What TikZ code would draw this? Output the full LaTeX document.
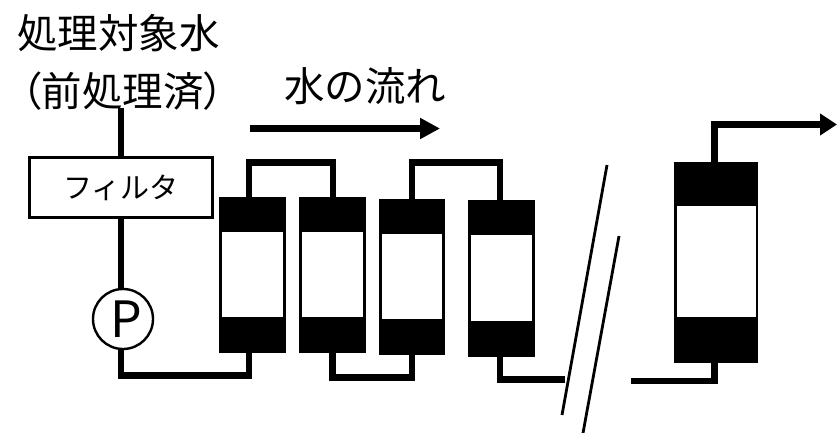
\documentclass[tikz,border=0pt]{standalone}
\usepackage{fontspec}
\newfontfamily\jp{Noto Sans CJK JP}
\newfontfamily\jpp[Script=CJK,RawFeature=+palt]{Noto Sans CJK JP}
\usetikzlibrary{arrows.meta}
\tikzset{
  pipe/.style={draw=black,line width=6.5pt,line cap=butt,line join=miter},
  capbox/.style={rectangle,fill=black,draw=none,inner sep=0pt,outer sep=0pt},
  core/.style={rectangle,fill=white,draw=none,inner sep=0pt,outer sep=0pt},
  jptext/.style={inner sep=0pt,outer sep=0pt,text=black,anchor=west,font=\jp\fontsize{40.5}{40.5}\selectfont},
  breakline/.style={draw=black,line width=2.8pt},
}
% name, left, right, top, core top, core bottom, bottom, inset
\newcommand{\modulebox}[8]{%
  \node[capbox,minimum width=#3pt-#2pt,minimum height=#7pt-#4pt] (#1) at ({(#2+#3)/2},{(#4+#7)/2}) {};
  \node[core,minimum width=#3pt-#2pt-2*#8pt,minimum height=#6pt-#5pt] (#1c) at ({(#2+#3)/2},{(#5+#6)/2}) {};
}
\begin{document}
\begin{tikzpicture}[x=1pt,y=-1pt]
\useasboundingbox (0,0) rectangle (837,433);
\node[jptext] (t1) at (17,33) {処理対象水};
\node[jptext,anchor=center] (t2) at (122.5,91) {{\jpp（}前処理済{\jpp）}};
\node[jptext] (t3) at (284,86) {水の流れ};

\node[draw=black,line width=2.6pt,fill=white,minimum width=183pt,minimum height=60pt,inner sep=0pt,outer sep=0pt,font=\jp\fontsize{29}{29}\selectfont] (filter) at (121,187.5) {フィルタ};
\node[circle,draw=black,line width=2.4pt,fill=white,minimum size=60pt,inner sep=0pt,outer sep=0pt,font=\jp\fontsize{50}{50}\selectfont] (pump) at (123,319) {\raisebox{-7pt}{\kern7pt P}};

\modulebox{m1}{219}{286}{197}{232}{317}{353}{3}
\modulebox{m2}{299}{366}{197}{232}{317}{353}{3}
\modulebox{m3}{379}{445}{199}{233.5}{319}{355}{3}
\modulebox{m4}{468}{535}{200}{235}{320.5}{357}{3}
\modulebox{m5}{674}{758}{162}{206}{317}{363}{2.5}

\coordinate (in) at (121,108);
\coordinate (c1) at (121,375.5);
\coordinate (c2) at (249,375.5);
\coordinate (c3) at (249,162.5);
\coordinate (c4) at (333,162.5);
\coordinate (c5) at (332.5,377.5);
\coordinate (c6) at (412,377.5);
\coordinate (c7) at (412,162.5);
\coordinate (c8) at (500,162.5);
\coordinate (c9) at (500,379.5);
\coordinate (c10) at (565,379.5);
\coordinate (c11) at (631,381.2);
\coordinate (c12) at (714.5,381.2);
\coordinate (c13) at (714.5,124.5);
\coordinate (out) at (837,124.5);
\coordinate (fa) at (250,128.5);
\coordinate (fb) at (440,128.5);
\coordinate (b1a) at (607,165);
\coordinate (b1b) at (562,415);
\coordinate (b2a) at (619,236);
\coordinate (b2b) at (583,433);

\draw[pipe] (in) -- (filter.north -| in);
\draw[pipe] (filter.south -| in) -- (pump.north -| in);
\draw[pipe] (pump.south -| in) -- (c1) -- (c2) -- (m1.south -| c2);
\draw[pipe] (m1.north -| c3) -- (c3) -- (c4) -- (m2.north -| c4);
\draw[pipe] (m2.south -| c5) -- (c5) -- (c6) -- (m3.south -| c6);
\draw[pipe] (m3.north -| c7) -- (c7) -- (c8) -- (m4.north -| c8);
\draw[pipe] (m4.south -| c9) -- (c9) -- (c10);
\draw[pipe] (c11) -- (c12) -- (m5.south -| c12);
\draw[pipe,-{Triangle[length=17pt,width=21pt]}] (m5.north -| c13) -- (c13) -- (out);
\draw[pipe,-{Triangle[length=20pt,width=20pt]}] (fa) -- (fb);
\draw[breakline] (b1a) -- (b1b);
\draw[breakline] (b2a) -- (b2b);
\end{tikzpicture}
\end{document}
